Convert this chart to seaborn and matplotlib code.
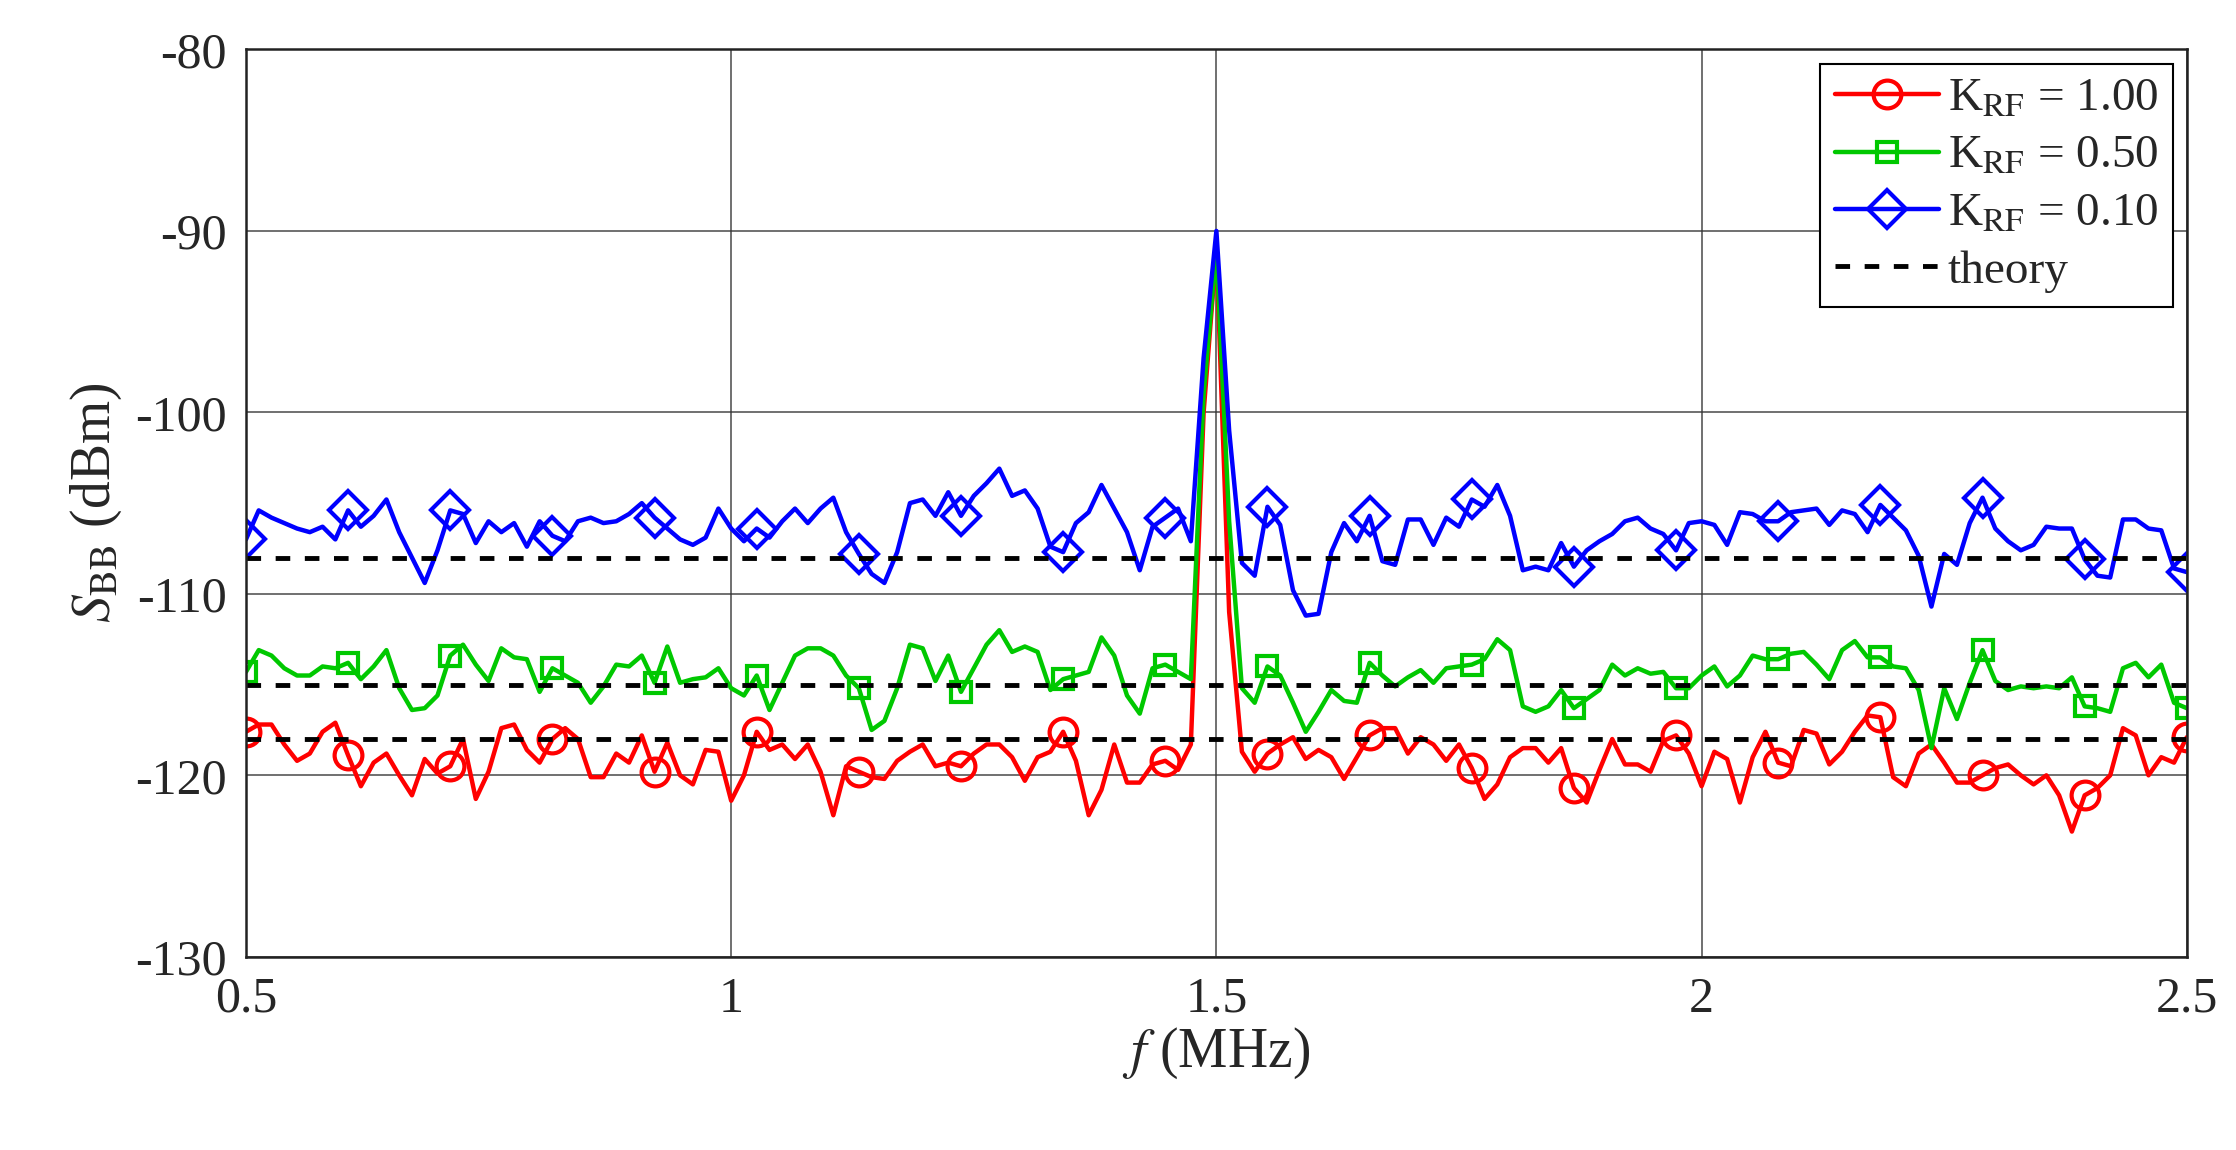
import matplotlib
matplotlib.use('Agg')
import matplotlib.pyplot as plt
import numpy as np
import pandas as pd
import seaborn as sns

sns.set_style('white')
plt.rcParams['font.family'] = ['Liberation Serif', 'DejaVu Serif']
plt.rcParams['mathtext.fontset'] = 'stix'
plt.rcParams['axes.unicode_minus'] = False

# data (dBm), 153 points from 0.5 to 2.5 MHz
red = [-117.6, -117.2, -117.2, -118.3, -119.2, -118.8, -117.6, -117.1, -118.9, -120.6,
       -119.3, -118.8, -120.0, -121.1, -119.1, -119.9, -119.5, -118.0, -121.3, -119.8,
       -117.4, -117.2, -118.6, -119.3, -118.0, -117.4, -118.0, -120.1, -120.1, -118.8,
       -119.3, -117.8, -119.8, -118.2, -120.0, -120.5, -118.6,
       -118.7, -121.4, -120.0, -117.6, -118.6, -118.3, -119.1, -118.3, -119.8, -122.2,
       -119.5, -119.8, -120.1, -120.2, -119.2, -118.7, -118.3, -119.5, -119.3, -119.5,
       -118.8, -118.3, -118.3, -119.0, -120.3, -119.0, -118.7, -117.6, -119.2, -122.2,
       -120.8, -118.3, -120.4, -120.4, -119.4, -119.2, -119.7, -118.3,
       -100.0, -91.0, -111.0,
       -118.7, -119.8, -118.8, -118.3, -117.9, -119.1, -118.6, -119.0, -120.2, -119.0,
       -117.8, -117.4, -117.4, -118.8, -117.9, -118.3, -119.2, -118.3, -119.6, -121.3,
       -120.5, -119.0, -118.5, -118.5, -119.3, -118.5, -120.7, -121.5, -119.7, -118.0,
       -119.4, -119.4, -119.8, -118.1, -117.8, -118.8,
       -120.6, -118.7, -119.1, -121.5, -119.0, -117.6, -119.3, -119.5, -117.5, -117.7,
       -119.4, -118.7, -117.6, -116.7, -116.8, -120.1, -120.6, -118.8, -118.3, -119.3,
       -120.4, -120.4, -120.0, -119.6, -119.4, -120.0, -120.5, -120.0, -121.1, -123.1,
       -121.1, -120.7, -120.0, -117.4, -117.8, -120.0, -119.0, -119.3, -117.9]

green = [-114.3, -113.1, -113.4, -114.1, -114.5, -114.5, -114.0, -114.1, -113.8, -114.7,
         -114.0, -113.1, -115.2, -116.4, -116.3, -115.6, -113.4, -112.8, -113.9, -114.8,
         -113.0, -113.5, -113.6, -115.4, -114.1, -114.5, -114.9, -116.0, -115.1, -113.9,
         -114.0, -113.4, -114.9, -112.9, -114.9, -114.7, -114.6,
         -114.1, -115.2, -115.6, -114.5, -116.4, -114.9, -113.4, -113.0, -113.0, -113.4,
         -114.5, -115.2, -117.5, -117.0, -115.2, -112.8, -113.0, -114.8, -113.4, -115.4,
         -114.1, -112.8, -112.0, -113.2, -112.9, -113.2, -115.3, -114.7, -114.5, -114.3,
         -112.4, -113.4, -115.6, -116.6, -114.1, -113.9, -114.3, -114.7,
         -99.0, -91.0, -106.0,
         -115.2, -116.0, -114.0, -114.5, -116.0, -117.6, -116.5, -115.3, -115.9, -116.0,
         -113.8, -114.5, -115.1, -114.6, -114.2, -114.9, -114.1, -114.0, -113.9, -113.6,
         -112.5, -113.1, -116.2, -116.5, -116.2, -115.3, -116.3, -115.8, -115.3, -113.9,
         -114.5, -114.1, -114.4, -114.3, -115.2, -115.2,
         -114.5, -114.0, -115.1, -114.5, -113.4, -113.6, -113.6, -113.3, -113.2, -113.9,
         -114.7, -113.1, -112.6, -113.5, -113.5, -114.0, -114.1, -115.3, -118.5, -115.2,
         -116.9, -114.9, -113.1, -114.8, -115.3, -115.1, -115.2, -115.1, -115.2, -114.6,
         -116.2, -116.3, -116.5, -114.1, -113.8, -114.6, -113.9, -116.0, -116.3]

blue = [-107.0, -105.4, -105.8, -106.1, -106.4, -106.6, -106.3, -107.0, -105.4, -106.3,
        -105.7, -104.8, -106.6, -108.0, -109.4, -107.6, -105.4, -105.6, -107.2, -106.0,
        -106.6, -106.1, -107.4, -106.0, -106.8, -107.1, -106.0, -105.8, -106.1, -106.0,
        -105.6, -105.0, -105.8, -106.4, -107.0, -107.3, -106.9,
        -105.3, -106.4, -107.1, -106.4, -106.9, -106.0, -105.3, -106.1, -105.3, -104.7,
        -106.6, -107.8, -108.9, -109.4, -107.7, -105.0, -104.8, -105.7, -104.4, -105.7,
        -104.6, -103.9, -103.1, -104.6, -104.3, -105.3, -107.4, -107.7, -106.1, -105.5,
        -104.0, -105.3, -106.6, -108.7, -106.3, -105.8, -105.3, -107.1,
        -97.0, -90.0, -101.0,
        -108.3, -109.0, -105.2, -106.2, -109.8, -111.2, -111.1, -107.7, -106.1, -107.1,
        -105.7, -108.2, -108.4, -105.9, -105.9, -107.3, -105.8, -106.3, -104.8, -105.2,
        -104.0, -105.7, -108.7, -108.5, -108.7, -107.2, -108.5, -107.6, -107.1, -106.7,
        -106.0, -105.8, -106.4, -106.7, -107.6, -106.1,
        -106.0, -106.2, -107.3, -105.5, -105.6, -106.0, -106.0, -105.5, -105.4, -105.3,
        -106.2, -105.4, -105.6, -106.6, -105.1, -105.8, -106.5, -107.9, -110.7, -107.8,
        -108.4, -106.1, -104.7, -106.4, -107.1, -107.6, -107.3, -106.3, -106.4, -106.4,
        -108.1, -109.0, -109.1, -105.9, -105.9, -106.4, -106.5, -108.6, -108.8]

theory = [-118.0, -115.0, -108.0]
labels = ['K$_{\\rm RF}$ = 1.00', 'K$_{\\rm RF}$ = 0.50', 'K$_{\\rm RF}$ = 0.10']
colors = ['#ff0000', '#00c800', '#0000ff']
markers = ['o', 's', 'D']

fig = plt.figure(figsize=(22.36, 11.5), dpi=100)
ax = fig.add_axes([0.110, 0.168, 0.868, 0.789])

for vals, lab, col, mk in zip([red, green, blue], labels, colors, markers):
    f = np.linspace(0.5, 2.5, len(vals))
    df = pd.DataFrame({'f': f, 'S': vals})
    ms = 20 if mk == 'o' else (15 if mk == 's' else 19)
    sns.lineplot(data=df, x='f', y='S', ax=ax, color=col, linewidth=3.2, label=lab,
                 marker=mk, markevery=8, markersize=ms, markerfacecolor='none',
                 markeredgecolor=col, markeredgewidth=3, sort=False)

for i, t in enumerate(theory):
    ax.plot([0.5, 2.5], [t, t], color='black', linestyle='--', linewidth=3.5,
            dashes=(3, 3), label='theory' if i == 0 else None)

ax.set_xlim(0.5, 2.5)
ax.set_ylim(-130, -80)
ax.set_xticks([0.5, 1, 1.5, 2, 2.5])
ax.set_xticklabels(['0.5', '1', '1.5', '2', '2.5'])
ax.set_yticks(np.arange(-130, -79, 10))
ax.grid(True, color='#333333', linewidth=1.4, alpha=0.7)
ax.tick_params(labelsize=36, direction='in', length=8, width=1.5, pad=14)
for s in ax.spines.values():
    s.set_linewidth(1.8)
    s.set_color('#222222')
ax.set_xlabel('$f$ (MHz)', fontsize=40, labelpad=2)
ax.set_ylabel('$S_{\\rm BB}$ (dBm)', fontsize=40, labelpad=8)

leg = ax.legend(loc='upper right', fontsize=34, frameon=True, fancybox=False,
                edgecolor='black', framealpha=1, handlelength=2.2, handletextpad=0.2,
                borderaxespad=0.3, labelspacing=0.3, borderpad=0.3)
leg.get_frame().set_linewidth(1.5)

fig.savefig('out.png', dpi=100)
